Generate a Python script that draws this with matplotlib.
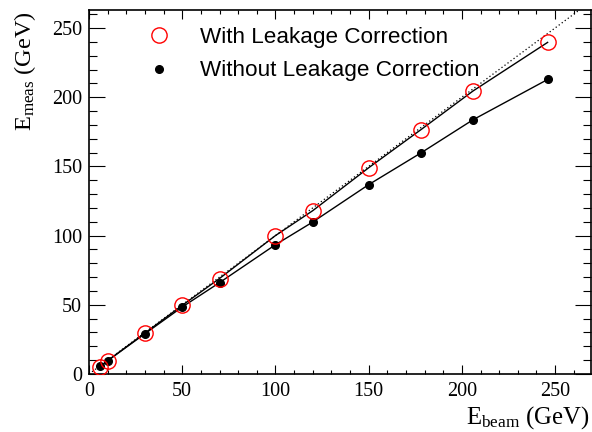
import matplotlib
matplotlib.use("Agg")
import matplotlib.pyplot as plt
from matplotlib.ticker import MultipleLocator
from matplotlib.lines import Line2D

plt.rcParams['font.family'] = ['Liberation Serif', 'DejaVu Serif']
plt.rcParams['mathtext.fontset'] = 'custom'
plt.rcParams['mathtext.rm'] = 'Liberation Serif'
plt.rcParams['mathtext.it'] = 'Liberation Serif:italic'

# Data
e_beam = [6, 10, 30, 50, 70, 100, 120, 150, 178, 206, 246]
e_with = [5, 9.6, 29.6, 49.6, 69, 100, 118, 149, 176.5, 204.5, 239.6]
e_without = [5.5, 9.6, 29.1, 48.4, 66, 93.4, 109.8, 136.8, 159.7, 183.7, 212.8]
diag = [0, 300]
labels = ["With Leakage Correction", "Without Leakage Correction"]

fig = plt.figure(figsize=(5.92, 4.32), dpi=100)
ax = fig.add_axes([89/592, (432-374)/432, (590.5-89)/592, (374-10)/432])

ax.plot(diag, diag, color='black', linestyle=(0, (1, 2)), linewidth=0.9, zorder=1)
ax.plot(e_beam, e_with, color='black', linewidth=1.0, zorder=2)
ax.plot(e_beam, e_without, color='black', linewidth=1.0, zorder=2)
ax.plot(e_beam, e_without, linestyle='none', marker='o', markersize=5.5,
        color='black', zorder=3)
ax.plot(e_beam, e_with, linestyle='none', marker='o', markersize=11,
        markerfacecolor='none', markeredgecolor='red', markeredgewidth=1.0, zorder=4)

ax.set_xlim(0, 269)
ax.set_ylim(0, 263)
ax.xaxis.set_major_locator(MultipleLocator(50))
ax.xaxis.set_minor_locator(MultipleLocator(10))
ax.yaxis.set_major_locator(MultipleLocator(50))
ax.yaxis.set_minor_locator(MultipleLocator(10))
ax.tick_params(axis='both', which='both', direction='in', top=True, right=True,
               width=0.8, labelsize=14.5)
ax.tick_params(axis='x', which='major', length=6.5, pad=6)
ax.tick_params(axis='x', which='minor', length=3.2)
ax.tick_params(axis='y', which='major', length=11.5, pad=5)
ax.tick_params(axis='y', which='minor', length=5.8)
for s in ax.spines.values():
    s.set_linewidth(1.2)

handles = [
    Line2D([], [], linestyle='none', marker='o', markersize=11,
           markerfacecolor='none', markeredgecolor='red', markeredgewidth=1.0),
    Line2D([], [], linestyle='none', marker='o', markersize=5.5, color='black'),
]
ax.legend(handles, labels, loc='upper left',
          bbox_to_anchor=(148/592, (432-27)/432), bbox_transform=fig.transFigure,
          frameon=False, borderpad=0, borderaxespad=0, handlelength=0.95,
          handletextpad=1.35, labelspacing=0.55,
          prop={'family': 'Liberation Sans', 'size': 16.2})

fig.text(25/592, (432-11)/432, r'E$_{\mathrm{meas}}$ (GeV)', rotation=90,
         ha='center', va='top', fontsize=17.6)
fig.text(590/592, (432-424)/432, r'E$_{\mathrm{beam}}$ (GeV)',
         ha='right', va='baseline', fontsize=17.8)

fig.savefig('out.png', dpi=100)
